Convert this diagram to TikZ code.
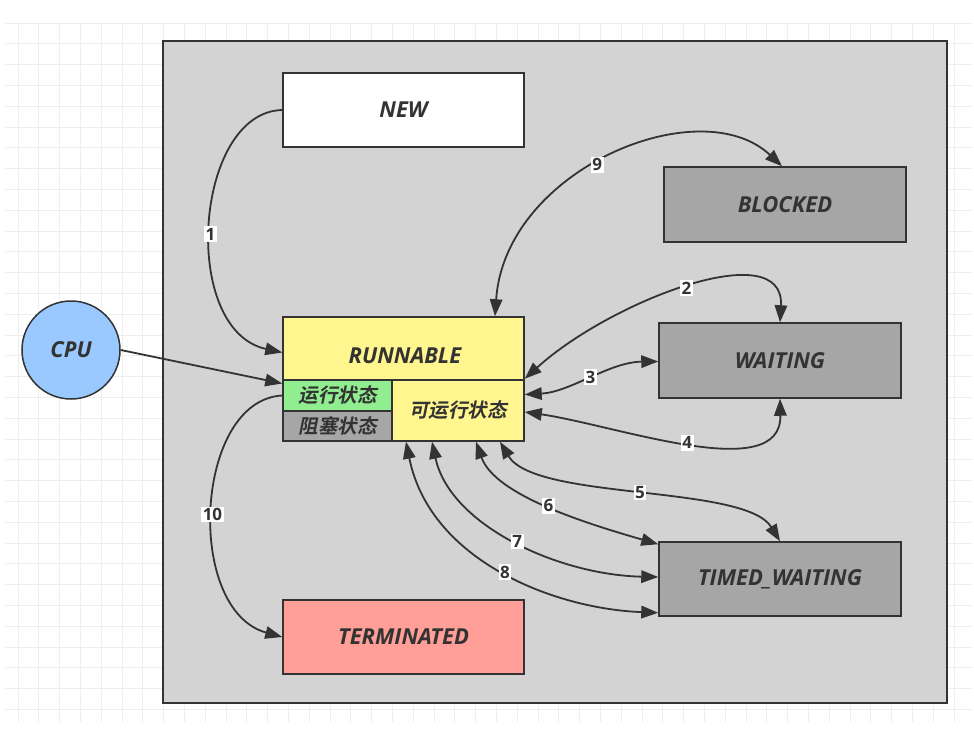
\documentclass[tikz,border=0pt]{standalone}
\usepackage{fontspec}
\usetikzlibrary{arrows.meta,calc}
\setmainfont{Open Sans}
\newfontfamily\cjk{Noto Sans CJK SC Bold}[FakeSlant=0.2]
\definecolor{ink}{HTML}{333333}
\definecolor{frameg}{HTML}{D3D3D3}
\definecolor{stateg}{HTML}{A6A6A6}
\definecolor{runy}{HTML}{FFF68F}
\definecolor{rung}{HTML}{90EE90}
\definecolor{termr}{HTML}{FF9F97}
\definecolor{cpub}{HTML}{99C9FF}
\definecolor{gridc}{HTML}{EEEEEE}
\begin{document}
\begin{tikzpicture}[x=1pt,y=-1pt,
  >={Triangle[length=17pt,width=12.5pt]},
  box/.style={draw=ink, line width=1.5pt, rectangle, inner sep=0pt, text=ink,
    font=\fontsize{22}{26}\selectfont\bfseries\itshape},
  cjkbox/.style={box, font=\fontsize{19.5}{23}\selectfont\cjk},
  txt/.style={inner sep=0pt, text=ink, font=\fontsize{22}{26}\selectfont\bfseries\itshape},
  conn/.style={draw=ink, line width=1.8pt},
  num/.style={fill=white, inner sep=1.6pt, text=ink, font=\fontsize{17}{20}\selectfont\bfseries},
]
\useasboundingbox (0,0) rectangle (974,730);
\fill[white] (0,0) rectangle (974,730);
% background grid
\foreach \i in {0,...,46} {
  \draw[gridc, line width=0.8pt] ({18+20.8*\i},23) -- ({18+20.8*\i},722);
}
\foreach \j in {0,...,33} {
  \draw[gridc, line width=0.8pt] (5,{23+20.8*\j}) -- (972,{23+20.8*\j});
}
% container
\node[draw=ink, line width=2pt, fill=frameg, minimum width=784pt, minimum height=662pt, inner sep=0pt] (frame) at (555,372) {};
% states
\node[box, fill=white, minimum width=241pt, minimum height=74pt] (new) at (403.5,110) {\raisebox{-1pt}{NEW}};
\node[box, fill=stateg, minimum width=242pt, minimum height=75pt] (blocked) at (785,204.5) {\raisebox{-2.5pt}{BLOCKED}};
\node[box, fill=stateg, minimum width=242pt, minimum height=75pt] (waiting) at (780,360.5) {\raisebox{-1pt}{WAITING}};
\node[box, fill=stateg, minimum width=242pt, minimum height=74pt] (timed) at (780,579) {TIMED\_WAITING};
\node[box, fill=termr, minimum width=241pt, minimum height=74pt] (term) at (403.5,637) {\raisebox{-2pt}{TERMINATED}};
\node[box, fill=runy, minimum width=241pt, minimum height=63pt] (run) at (403.5,348.5) {};
\node[txt] (runlbl) at (405,355.5) {RUNNABLE};
\node[cjkbox, fill=rung, minimum width=109pt, minimum height=31pt] (green) at (337.5,395.5) {运行状态};
\node[cjkbox, fill=stateg, minimum width=109pt, minimum height=30pt] (blk) at (337.5,426) {阻塞状态};
\node[cjkbox, fill=runy, minimum width=132pt, minimum height=61pt] (rsub) at (458,410.5) {\raisebox{-1.5pt}{可运行状态}};
\node[circle, draw=ink, line width=1.5pt, fill=cpub, minimum size=98pt, inner sep=0pt, text=ink,
  font=\fontsize{22}{26}\selectfont\bfseries\itshape] (cpu) at (71,350) {CPU};
% connectors
\draw[conn,->] (new.west) .. controls +(-88,2) and +(-103,-22.5) .. ($(run.west)+(0,4)$) node[num,pos=0.53]{1};
\draw[conn,->] (cpu.east) -- ($(green.west)+(0,-12)$);
\draw[conn,->] (green.west) .. controls +(-88,4.5) and +(-98,-27) .. (term.west) node[num,pos=0.52]{10};
\draw[conn,<->] ($(run.north)+(91.5,0)$) .. controls +(10,-147) and +(-82,-77) .. ($(blocked.north)+(-3,0)$) node[num,pos=0.46]{9};
\draw[conn,<->] ($(run.south east)+(0,-2)$) .. controls +(86,-78) and +(5,-88) .. (waiting.north) node[num,pos=0.5]{2};
\draw[conn,<->] ($(rsub.east)+(0,-16)$) .. controls +(46,-2.5) and +(-49,0.5) .. ($(waiting.west)+(0,1)$) node[num,pos=0.5]{3};
\draw[conn,<->] ($(rsub.east)+(0,1.5)$) .. controls +(91,13) and +(2,87) .. (waiting.south) node[num,pos=0.5]{4};
\draw[conn,<->] ($(rsub.south)+(42,0)$) .. controls +(35,59) and +(-35,-57) .. (timed.north) node[num,pos=0.5]{5};
\draw[conn,<->] ($(rsub.south)+(18,0)$) .. controls +(19,54) and +(-69,-20) .. ($(timed.north west)+(0,3)$) node[num,pos=0.5]{6};
\draw[conn,<->] ($(rsub.south)+(-26,0)$) .. controls +(18,84) and +(-99,-2) .. ($(timed.west)+(0,-2)$) node[num,pos=0.51]{7};
\draw[conn,<->] ($(rsub.south)+(-52,0)$) .. controls +(24,119) and +(-104,-4) .. ($(timed.south west)+(0,-4)$) node[num,pos=0.51]{8};
\end{tikzpicture}
\end{document}
